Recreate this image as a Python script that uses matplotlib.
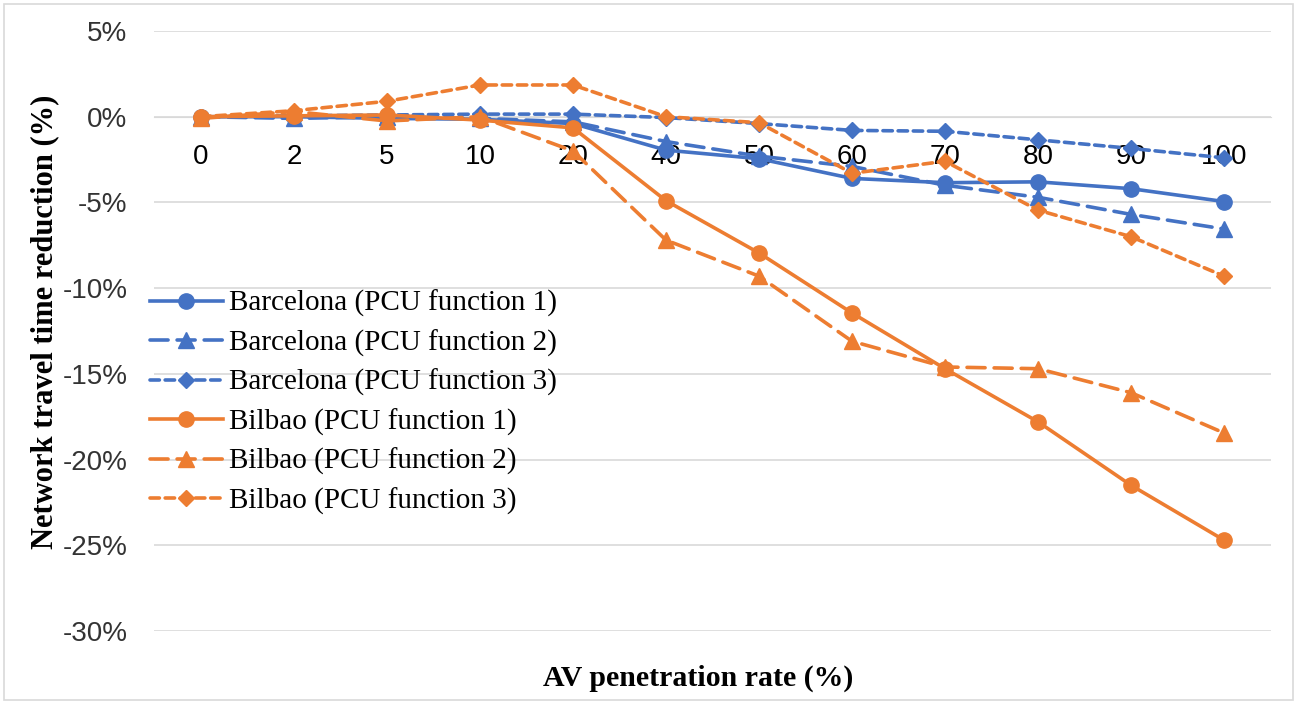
import matplotlib.pyplot as plt
from matplotlib.patches import Rectangle
from matplotlib.ticker import PercentFormatter

plt.rcParams['axes.unicode_minus'] = False

# AV penetration rates (categorical x axis)
rates = ['0', '2', '5', '10', '20', '40', '50', '60', '70', '80', '90', '100']

# network travel time reduction (%)
bcn_pcu1 = [0.0, 0.0, -0.1, -0.15, -0.4, -1.95, -2.45, -3.6, -3.85, -3.8, -4.2, -4.95]
bcn_pcu2 = [0.0, -0.1, 0.0, -0.1, -0.3, -1.45, -2.3, -2.9, -4.0, -4.7, -5.7, -6.55]
bcn_pcu3 = [0.0, 0.05, 0.1, 0.15, 0.15, -0.05, -0.4, -0.8, -0.85, -1.35, -1.85, -2.4]
bil_pcu1 = [0.0, 0.05, 0.1, -0.2, -0.65, -4.9, -7.95, -11.45, -14.7, -17.8, -21.5, -24.7]
bil_pcu2 = [-0.1, 0.3, -0.25, 0.0, -2.0, -7.2, -9.3, -13.1, -14.6, -14.7, -16.1, -18.45]
bil_pcu3 = [0.0, 0.35, 0.9, 1.85, 1.85, 0.0, -0.35, -3.3, -2.6, -5.45, -7.0, -9.3]

labels = ['Barcelona (PCU function 1)', 'Barcelona (PCU function 2)',
          'Barcelona (PCU function 3)', 'Bilbao (PCU function 1)',
          'Bilbao (PCU function 2)', 'Bilbao (PCU function 3)']

blue = '#4472C4'
orange = '#ED7D31'
dash = (5, 2.5)
sdash = (2.6, 1.6)

fig = plt.figure(figsize=(12.97, 7.04), dpi=100)
ax = fig.add_axes([0.1191, 0.1037, 0.8605, 0.8523])

x = list(range(len(rates)))
series = [
    (bcn_pcu1, blue, 'o', None, 11),
    (bcn_pcu2, blue, '^', dash, 11),
    (bcn_pcu3, blue, 'D', sdash, 8),
    (bil_pcu1, orange, 'o', None, 11),
    (bil_pcu2, orange, '^', dash, 11),
    (bil_pcu3, orange, 'D', sdash, 8),
]
for (vals, col, mk, ds, ms), lab in zip(series, labels):
    line, = ax.plot(x, vals, color=col, marker=mk, markersize=ms, lw=2.6,
                    label=lab, dash_capstyle='round', zorder=3)
    if ds is not None:
        line.set_dashes(ds)

ax.set_xlim(-0.5, len(rates) - 0.5)
ax.set_ylim(-30, 5)
ax.set_yticks(range(-30, 6, 5))
ax.yaxis.set_major_formatter(PercentFormatter(decimals=0))
ax.grid(axis='y', color='#D9D9D9', lw=1.2)
ax.set_axisbelow(True)

# x axis crosses at 0%
for s in ['top', 'right', 'left']:
    ax.spines[s].set_visible(False)
ax.spines['bottom'].set_position(('data', 0))
ax.spines['bottom'].set_color('#D9D9D9')
ax.set_xticks(x)
ax.set_xticklabels(rates)
ax.tick_params(axis='x', length=0, pad=20, labelsize=20)
ax.tick_params(axis='y', length=0, pad=19.5, labelsize=20)
for t in ax.get_xticklabels() + ax.get_yticklabels():
    t.set_fontfamily('Liberation Sans')
for t in ax.get_yticklabels():
    t.set_color('#333333')

fig.text(45 / 1297, 1 - 322 / 704, 'Network travel time reduction (%)',
         rotation=90, ha='center', va='center', fontsize=22,
         fontweight='bold', family='Liberation Serif')
fig.text(698 / 1297, 1 - 678 / 704, 'AV penetration rate (%)',
         ha='center', va='center', fontsize=21.5,
         fontweight='bold', family='Liberation Serif')

ax.legend(loc='upper left', bbox_to_anchor=(150 / 1297, 1 - 290 / 704),
          bbox_transform=fig.transFigure, frameon=False,
          prop={'family': 'Liberation Serif', 'size': 21},
          handlelength=2.5, handletextpad=0.2, labelspacing=0.42,
          borderpad=0, borderaxespad=0)

fig.patches.append(Rectangle((4 / 1297, 4 / 704), 1 - 8 / 1297, 1 - 8 / 704,
                             transform=fig.transFigure, fill=False,
                             edgecolor='#D9D9D9', lw=1.2))

fig.savefig('out.png', dpi=100)
